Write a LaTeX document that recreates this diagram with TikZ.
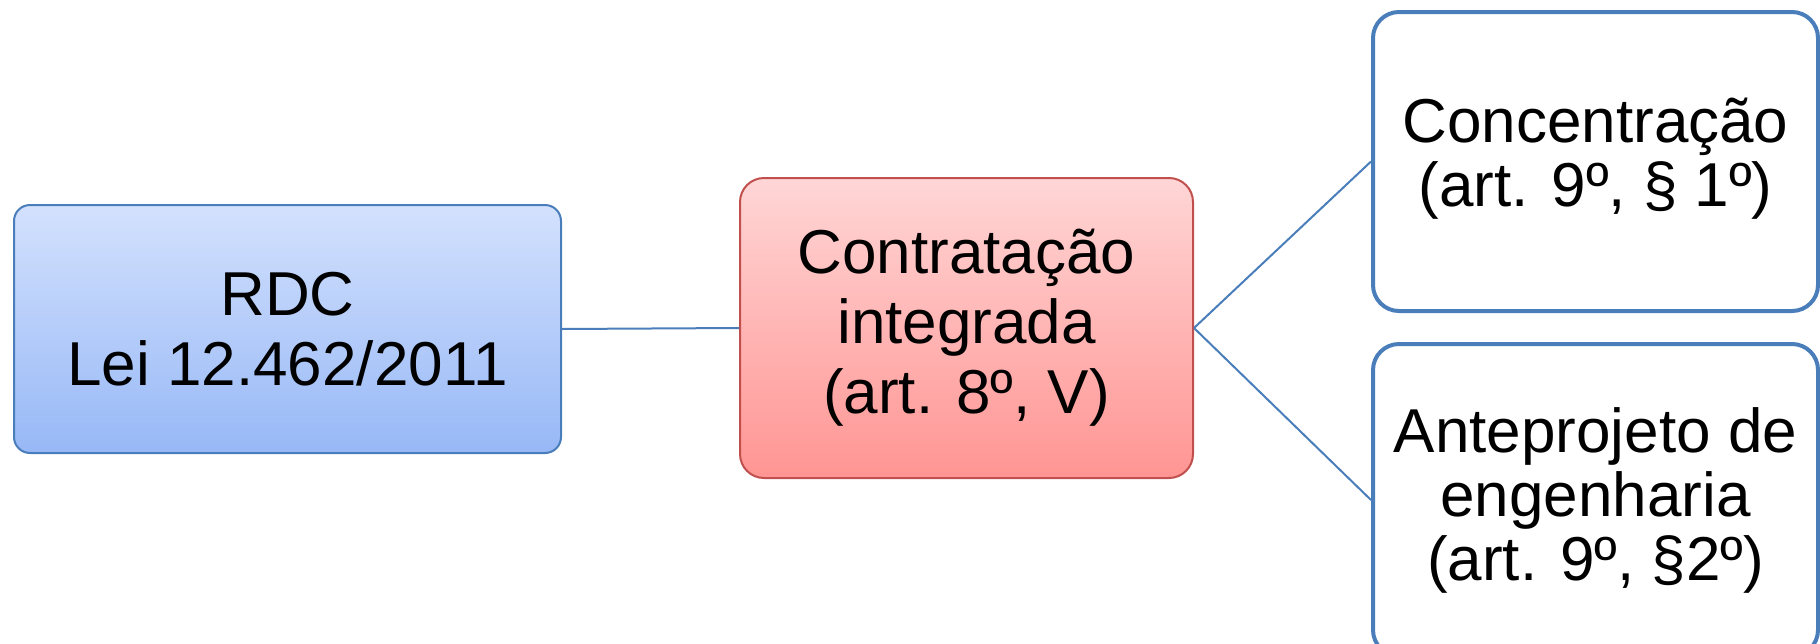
\documentclass[tikz,border=0pt]{standalone}
\usepackage{fontspec}
\setmainfont{Liberation Sans}
\definecolor{bluebd}{HTML}{4A7EBB}
\definecolor{bluetop}{HTML}{D3E1FD}
\definecolor{bluebot}{HTML}{97B8F6}
\definecolor{redbd}{HTML}{C0504D}
\definecolor{redtop}{HTML}{FFD6D6}
\definecolor{redbot}{HTML}{FF9593}
\definecolor{linec}{HTML}{4A7EBB}
\tikzset{
  basebox/.style={rectangle, align=center, inner sep=0pt, font=\fontsize{31}{35}\selectfont},
  rootbox/.style={basebox, draw=bluebd, line width=1pt, rounded corners=8pt, top color=bluetop, bottom color=bluebot, minimum width=273.5pt, minimum height=124pt},
  midbox/.style={basebox, draw=redbd, line width=1pt, rounded corners=12pt, top color=redtop, bottom color=redbot, minimum width=226.5pt, minimum height=150pt},
  leafbox/.style={basebox, draw=bluebd, fill=white, line width=2pt, rounded corners=13pt, minimum width=222.5pt, minimum height=149.5pt, font=\fontsize{31}{32}\selectfont},
  conn/.style={draw=linec, line width=1pt}
}
\begin{document}
\begin{tikzpicture}[x=0.5pt,y=-0.5pt]
\useasboundingbox (0,0) rectangle (1820,643);
\clip (0,0) rectangle (1820,643);
\node[rootbox] (rdc) at (287.5,329) {RDC\\Lei 12.462/2011};
\node[midbox] (ci) at (966.5,328) {Contratação\\integrada\\(art. 8º, V)};
\node[leafbox] (conc) at (1595.5,161.5) {\raisebox{-3pt}{\begin{tabular}{@{}c@{}}Concentração\\(art. 9º, § 1º)\end{tabular}}};
\node[leafbox, minimum height=156pt] (ante) at (1595.5,500) {Anteprojeto de\\engenharia\\(art. 9º, §2º)};
\draw[conn] (rdc.east) -- (ci.west);
\draw[conn] (ci.east) -- (conc.west);
\draw[conn] (ci.east) -- (ante.west);
\end{tikzpicture}
\end{document}
